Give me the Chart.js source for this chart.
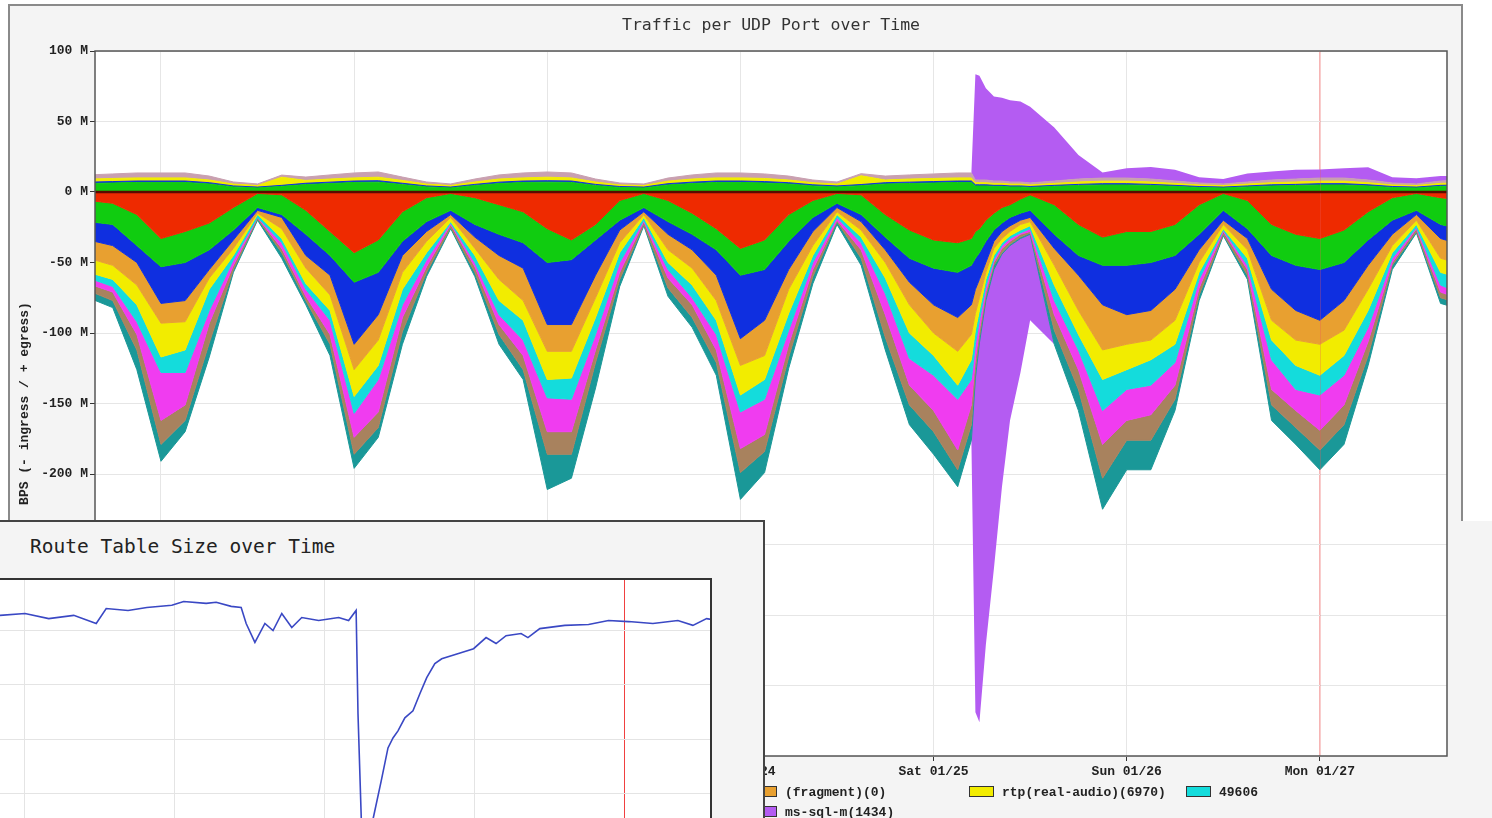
<!DOCTYPE html>
<html lang="en">
<head>
<meta charset="UTF-8">
<title>Traffic per UDP Port over Time</title>
<script src="https://cdn.jsdelivr.net/npm/chart.js"></script>
<style>
  html, body { margin: 0; padding: 0; }
  body { width: 1492px; height: 818px; overflow: hidden; position: relative; background: #fff; }
  #panel { position: absolute; left: 8px; top: 4px; width: 1451px; height: 840px; background: #f4f4f4; border: 2px solid #8a8a8a; }
  #strip { position: absolute; left: 1459px; top: 521px; width: 33px; height: 297px; background: #f4f4f4; }
  #trafficTitle { position: absolute; left: 95px; top: 15px; width: 1352px; text-align: center; font: 16.5px "DejaVu Sans Mono", monospace; color: #333; }
  #traffic { position: absolute; left: 0; top: 0; }
  .key { position: absolute; font: bold 13px "Liberation Mono", monospace; color: #222; white-space: nowrap; line-height: 12px; }
  .key i { display: inline-block; width: 23px; height: 9px; border: 1px solid #333; margin-right: 8px; vertical-align: -1px; }
  #routePanel { position: absolute; left: -4px; top: 520px; width: 765px; height: 320px; background: #f4f4f4; border: 2px solid #444; z-index: 2; }
  #routeTitle { position: absolute; left: 30px; top: 535px; font: 19.5px "DejaVu Sans Mono", monospace; color: #222; z-index: 3; }
  #route { position: absolute; left: 0; top: 521px; z-index: 3; }
</style>
</head>
<body>
<div id="panel"></div>
<div id="strip"></div>
<canvas id="traffic" width="1492" height="818"></canvas>
<div id="trafficTitle">Traffic per UDP Port over Time</div>
<div class="key" style="left:752px;top:786px"><i style="background:#e8a030"></i>(fragment)(0)</div>
<div class="key" style="left:969px;top:786px"><i style="background:#f2ec00"></i>rtp(real-audio)(6970)</div>
<div class="key" style="left:1186px;top:786px"><i style="background:#14dcdc"></i>49606</div>
<div class="key" style="left:752px;top:806px"><i style="background:#b45cf2"></i>ms-sql-m(1434)</div>
<div id="routePanel"></div>
<div id="routeTitle">Route Table Size over Time</div>
<canvas id="route" width="763" height="410"></canvas>

<script>
// time axis: hours from Tue 01/21 00:00
const hours = [-9,-6,-3,0,3,6,9,12,15,18,21,24,27,30,33,36,39,42,45,48,51,54,57,60,63,66,69,72,75,78,81,84,87,90,93,96,99,
  100.7,101.2,101.7,102.5,103.5,104.5,105.5,106.8,108,
  111,114,117,120,123,126,129,132,135,138,141,144,147,150,153,156,159,162];
const dayTicks = [0, 24, 48, 72, 96, 120, 144];
const dayLabels = ['Tue 01/21', 'Wed 01/22', 'Thu 01/23', 'Fri 01/24', 'Sat 01/25', 'Sun 01/26', 'Mon 01/27'];
const markerHour = 144;
const yTicks = [-400, -350, -300, -250, -200, -150, -100, -50, 0, 50, 100];

// egress (+), stacked edges in M bit/s
const outGreen = [6.0,6.4,6.8,6.8,6.8,5.7,3.6,2.9,4.0,5.3, 6.0,6.8,7.0,5.3,3.6,2.9,4.6,6.0,6.8,7.0,
  6.8,4.6,3.2,2.9,5.0,6.0,6.8,6.8,6.4,5.7, 4.3,3.6,4.5,5.7,6.0,6.4,6.8,6.8,4.3,4.3,
  4.3,4.0,4.0,3.6,3.6,3.2,4.0,4.6,5.0,5.0, 4.6,4.0,3.2,2.9,3.6,4.3,4.6,5.0,5.0,4.3, 3.2,2.9,4.0,4.3];
const outBlue = [7.0,7.4,7.8,7.8,7.8,6.6,4.3,3.5,4.7,6.2, 7.0,7.8,8.0,6.2,4.3,3.5,5.4,7.0,7.8,8.0,
  7.8,5.4,3.9,3.5,5.9,7.0,7.8,7.8,7.4,6.6, 5.1,4.3,5.3,6.6,7.0,7.4,7.8,7.8,5.1,5.1,
  5.1,4.7,4.7,4.3,4.3,3.9,4.7,5.4,5.9,5.9, 5.4,4.7,3.9,3.5,4.3,5.1,5.4,5.9,5.9,5.1, 3.9,3.5,4.7,5.1];
const outRtp = [9.2,9.6,10.0,10.0,10.0,8.5,5.6,4.6,10.5,8.2, 9.2,10.0,10.5,8.2,5.6,4.6,7.1,9.2,10.0,10.5,
  10.0,7.1,5.0,4.6,7.7,9.2,10.0,10.0,9.6,8.5, 6.6,5.6,11.5,8.5,9.2,9.6,10.0,10.0,6.6,6.6,
  6.6,6.1,6.1,5.6,5.6,5.0,6.1,7.1,7.7,7.7, 7.1,6.1,5.0,4.6,5.6,6.6,7.1,7.7,7.7,6.6, 5.0,4.6,6.1,6.6];
const outOther = [12.1,12.8,13.5,13.5,13.5,11.3,7.1,5.7,12.0,10.6, 12.1,13.5,14.2,10.6,7.1,5.7,9.2,12.1,13.5,14.2,
  13.5,9.2,6.4,5.7,9.9,12.1,13.5,13.5,12.8,11.3, 8.5,7.1,13.0,11.3,12.1,12.8,13.5,13.5,8.5,8.5,
  8.5,7.8,7.8,7.1,7.1,6.4,7.8,9.2,9.9,9.9, 9.2,7.8,6.4,5.7,7.1,8.5,9.2,9.9,9.9,8.5, 6.4,5.7,7.8,8.5];
// ms-sql-m(1434) on its own, egress and ingress
const msSqlOut = [0,0,0,0,0,0,0,0,0,0, 0,0,0,0,0,0,0,0,0,0, 0,0,0,0,0,0,0,0,0,0, 0,0,0,0,0,0,0,0,75,74,
  65,60,59,58,57,54,38,17,4,7, 8.5,8,4,3.5,6,6,6.5,6,7,9, 4,4,3.5,3];
const msSqlIn = [0,0,0,0,0,0,0,0,0,0, 0,0,0,0,0,0,0,0,0,0, 0,0,0,0,0,0,0,0,0,0, 0,0,0,0,0,0,0,0,237,269,
  244,212,165,124,95,61,0,0,0,0, 0,0,0,0,0,0,0,0,0,0, 0,0,0,0];

// ingress (-), stacked edges in M bit/s
const inRed = [-6,-8,-16,-33,-28,-22,-11,-1,-2,-13, -28,-43,-34,-14,-4,-1,-4,-9,-14,-26,
  -34,-23,-6,-1,-6,-15,-26,-40,-34,-16, -6,-1,-2,-16,-27,-34,-36,-33,-28,-26,
  -20,-15,-11,-9,-5,-2,-9,-23,-32,-28, -28,-23,-9,-1,-6,-23,-30,-33,-27,-14, -4,-1,-4,-6];
const inGreen = [-21,-23,-38,-53,-50,-41,-27,-11,-16,-30, -45,-64,-57,-35,-21,-13,-23,-30,-36,-50,
  -48,-34,-20,-11,-21,-30,-41,-59,-55,-35, -18,-8,-16,-32,-47,-54,-57,-52,-47,-43,
  -35,-27,-22,-18,-15,-13,-30,-45,-52,-52, -50,-45,-30,-13,-26,-45,-52,-55,-50,-34, -20,-13,-23,-27];
const inBlue = [-34,-38,-50,-79,-77,-55,-34,-13,-18,-45, -59,-108,-87,-45,-28,-16,-32,-45,-54,-94,
  -94,-59,-27,-14,-30,-41,-59,-104,-91,-55, -28,-11,-21,-41,-64,-80,-89,-80,-69,-62,
  -50,-35,-28,-24,-20,-18,-40,-59,-80,-87, -84,-69,-41,-20,-33,-69,-84,-91,-77,-52, -30,-16,-33,-38];
const inFragment = [-47,-52,-66,-93,-92,-61,-40,-15,-26,-54, -73,-126,-105,-57,-35,-18,-40,-62,-77,-113,
  -113,-75,-36,-16,-41,-54,-77,-123,-116,-69, -38,-14,-27,-50,-80,-100,-113,-101,-86,-75,
  -57,-40,-33,-28,-23,-21,-52,-84,-112,-108, -105,-91,-50,-23,-41,-91,-105,-108,-98,-69, -38,-20,-47,-52];
const inRtp = [-57,-62,-80,-117,-112,-69,-45,-16,-33,-65, -84,-145,-123,-69,-43,-21,-45,-77,-91,-133,
  -132,-89,-43,-18,-50,-66,-91,-144,-133,-86, -45,-16,-32,-61,-100,-116,-137,-119,-98,-84,
  -62,-45,-36,-31,-27,-24,-66,-101,-133,-126, -119,-108,-57,-26,-47,-105,-123,-130,-116,-84, -43,-23,-57,-62];
const in49606 = [-61,-67,-92,-128,-128,-84,-48,-18,-36,-69, -91,-157,-133,-80,-48,-22,-50,-87,-105,-146,
  -147,-101,-50,-20,-55,-75,-101,-156,-147,-98, -50,-18,-36,-72,-118,-130,-147,-133,-108,-91,
  -67,-48,-38,-33,-29,-26,-77,-112,-155,-140, -137,-121,-62,-27,-52,-119,-140,-144,-130,-96, -47,-25,-66,-73];
const inMagenta = [-65,-71,-101,-162,-151,-93,-52,-18,-40,-74, -101,-174,-156,-89,-53,-23,-53,-94,-116,-170,
  -170,-112,-57,-21,-61,-80,-112,-182,-172,-108, -55,-20,-41,-87,-137,-155,-183,-151,-118,-98,
  -71,-50,-40,-35,-30,-28,-87,-126,-179,-162, -158,-137,-68,-28,-55,-140,-155,-169,-151,-106, -50,-26,-71,-77];
const inBrown = [-70,-77,-112,-179,-162,-107,-55,-19,-43,-77, -108,-186,-167,-99,-57,-25,-57,-101,-126,-186,
  -186,-121,-62,-23,-68,-89,-121,-199,-184,-117, -60,-21,-47,-103,-151,-170,-197,-165,-126,-103,
  -74,-52,-43,-37,-32,-29,-98,-140,-203,-176, -176,-147,-73,-30,-59,-151,-167,-183,-165,-116, -52,-28,-75,-80];
const inTeal = [-75,-82,-126,-191,-170,-117,-57,-20,-47,-80, -116,-196,-174,-108,-60,-26,-60,-108,-133,-211,
  -203,-139,-67,-24,-74,-96,-130,-218,-199,-125, -65,-23,-52,-112,-165,-186,-209,-176,-132,-107,
  -77,-55,-44,-38,-33,-30,-108,-155,-225,-197, -197,-155,-77,-31,-62,-162,-179,-197,-179,-123, -55,-29,-79,-84];

// route table (inset), hours and size
const routeHours = [44.0,48.0,51.8,55.8,59.4,61.0,64.5,67.5,71.5,73.4,77.0,78.6,81.0,82.6,83.4,
  84.8,86.4,87.7,89.1,90.7,92.3,95.0,98.2,99.8,101.0,101.3,101.9,102.7,103.7,105.0,
  106.1,106.9,107.7,108.8,110.1,111.2,112.3,113.6,114.7,117.9,119.8,121.8,123.4,125.0,127.4,
  128.5,130.4,134.4,138.2,141.4,144.6,148.5,152.5,154.9,157.1,157.8];
const routeSize = [125.6,126.3,124.4,125.6,122.6,128.1,127.4,128.5,129.3,130.7,130.0,130.4,128.9,128.5,122.6,
  115.6,122.6,120.0,126.3,121.1,124.8,123.7,124.8,123.7,127.4,89.3,45,38,50.4,64.4,
  76.7,80.4,83.0,87.8,90.4,96.7,102.6,107.8,109.6,111.9,113.3,117.4,115.2,118.1,118.9,
  117.4,120.7,121.9,122.2,123.7,123.3,122.6,123.7,121.9,124.4,124.1];
const routeDayTicks = [48, 72, 96, 120, 144];

const tickFont = { family: '"Liberation Mono", monospace', size: 13, weight: 'bold' };

function area(values, color, fill) {
  return {
    data: hours.map((h, i) => ({ x: h, y: values[i] })),
    borderColor: color,
    backgroundColor: color,
    borderWidth: 1,
    fill: fill,
    pointRadius: 0,
    tension: 0
  };
}

const msOutEdge = outOther.map((v, i) => v + msSqlOut[i]);
const msInEdge = inTeal.map((v, i) => v - msSqlIn[i]);

const trafficFrame = {
  id: 'trafficFrame',
  beforeDraw(chart) {
    const { ctx, chartArea: a } = chart;
    ctx.save();
    ctx.fillStyle = '#fff';
    ctx.fillRect(a.left, a.top, a.width, a.height);
    ctx.restore();
  },
  afterDatasetsDraw(chart) {
    const { ctx, chartArea: a, scales } = chart;
    ctx.save();
    const mx = Math.round(scales.x.getPixelForValue(markerHour)) + 0.5;
    ctx.strokeStyle = 'rgba(235,90,90,0.3)';
    ctx.lineWidth = 1;
    ctx.beginPath(); ctx.moveTo(mx, a.top); ctx.lineTo(mx, a.bottom); ctx.stroke();
    const y0 = scales.y.getPixelForValue(0);
    ctx.strokeStyle = '#5a0a00';
    ctx.lineWidth = 2.5;
    ctx.beginPath(); ctx.moveTo(a.left, y0); ctx.lineTo(a.right, y0); ctx.stroke();
    ctx.strokeStyle = '#555';
    ctx.lineWidth = 1.5;
    ctx.strokeRect(a.left, a.top, a.width, a.height);
    ctx.restore();
  }
};

new Chart(document.getElementById('traffic'), {
  type: 'line',
  data: {
    datasets: [
      area(outGreen, '#10cc10', 'origin'),
      area(outBlue, '#0f2fe0', '-1'),
      area(outRtp, '#f2ec00', '-1'),
      area(outOther, '#c9a0b0', '-1'),
      Object.assign(area(msOutEdge, '#b45cf2', '-1'), { borderWidth: 0 }),
      area(inRed, '#ee2a00', 'origin'),
      area(inGreen, '#10cc10', '-1'),
      area(inBlue, '#0f2fe0', '-1'),
      area(inFragment, '#e8a030', '-1'),
      area(inRtp, '#f2ec00', '-1'),
      area(in49606, '#14dcdc', '-1'),
      area(inMagenta, '#f03cf0', '-1'),
      area(inBrown, '#a8825e', '-1'),
      area(inTeal, '#1a9898', '-1'),
      Object.assign(area(msInEdge, '#b45cf2', '-1'), { borderWidth: 0 })
    ]
  },
  options: {
    responsive: false,
    animation: false,
    layout: { padding: { left: 0, top: 51, right: 45, bottom: 32 } },
    plugins: { legend: { display: false }, tooltip: { enabled: false } },
    scales: {
      x: {
        type: 'linear',
        min: -8.2,
        max: 159.8,
        afterBuildTicks: s => { s.ticks = dayTicks.map(v => ({ value: v })); },
        afterFit: s => { s.height = 30; },
        ticks: {
          autoSkip: false,
          maxRotation: 0,
          padding: 3,
          color: '#222',
          font: tickFont,
          callback: v => dayLabels[dayTicks.indexOf(v)]
        },
        grid: {
          color: c => (c.tick && c.tick.value === markerHour) ? 'rgba(235,90,90,0.45)' : '#e6e6e6',
          tickColor: '#333',
          tickLength: 5
        },
        border: { display: false }
      },
      y: {
        min: -400,
        max: 100,
        afterBuildTicks: s => { s.ticks = yTicks.map(v => ({ value: v })); },
        afterFit: s => { s.width = 95; },
        ticks: { padding: 2, color: '#222', font: tickFont, callback: v => v + ' M' },
        grid: { color: '#e6e6e6', tickColor: '#333', tickLength: 5 },
        border: { display: false },
        title: {
          display: true,
          text: 'BPS (- ingress / + egress)',
          color: '#222',
          font: tickFont,
          padding: { top: 17, bottom: 0 }
        }
      }
    }
  },
  plugins: [trafficFrame]
});

const routeFrame = {
  id: 'routeFrame',
  beforeDraw(chart) {
    const { ctx, chartArea: a } = chart;
    ctx.save();
    ctx.fillStyle = '#fff';
    ctx.fillRect(a.left, a.top, a.width, a.height);
    ctx.restore();
  },
  afterDatasetsDraw(chart) {
    const { ctx, chartArea: a } = chart;
    ctx.save();
    ctx.strokeStyle = '#333';
    ctx.lineWidth = 2;
    ctx.beginPath();
    ctx.moveTo(a.left, a.top);
    ctx.lineTo(a.right, a.top);
    ctx.lineTo(a.right, a.bottom);
    ctx.stroke();
    ctx.restore();
  }
};

new Chart(document.getElementById('route'), {
  type: 'line',
  data: {
    datasets: [{
      data: routeHours.map((h, i) => ({ x: h, y: routeSize[i] })),
      borderColor: '#3a48c4',
      borderWidth: 1.6,
      pointRadius: 0,
      tension: 0,
      fill: false
    }]
  },
  options: {
    responsive: false,
    animation: false,
    layout: { padding: { left: 0, top: 58, right: 52, bottom: 0 } },
    plugins: { legend: { display: false }, tooltip: { enabled: false } },
    scales: {
      x: {
        type: 'linear',
        min: 44,
        max: 157.8,
        afterBuildTicks: s => { s.ticks = routeDayTicks.map(v => ({ value: v })); },
        afterFit: s => { s.height = 0; },
        ticks: { display: false },
        grid: {
          color: c => (c.tick && c.tick.value === markerHour) ? '#f04040' : '#e4e4e4',
          drawTicks: false
        },
        border: { display: false }
      },
      y: {
        min: 9.2,
        max: 139,
        afterBuildTicks: s => { s.ticks = [20, 40, 60, 80, 100, 120].map(v => ({ value: v })); },
        afterFit: s => { s.width = 0; },
        ticks: { display: false },
        grid: { color: '#e4e4e4', drawTicks: false },
        border: { display: false }
      }
    }
  },
  plugins: [routeFrame]
});
</script>
</body>
</html>
